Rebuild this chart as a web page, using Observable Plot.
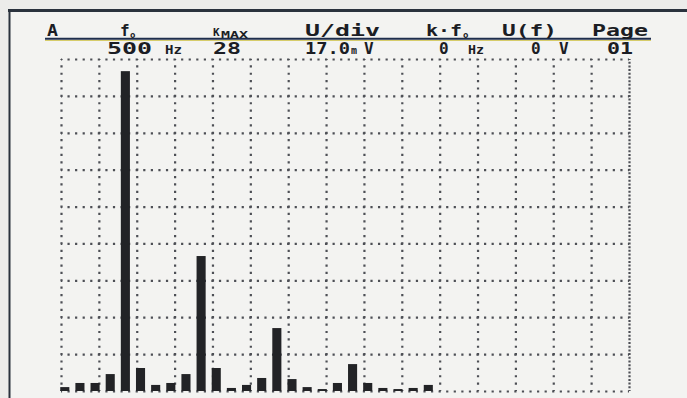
<!DOCTYPE html>
<html>
<head>
<meta charset="utf-8">
<script src="https://cdn.jsdelivr.net/npm/d3@7"></script>
<script src="https://cdn.jsdelivr.net/npm/@observablehq/plot@0.6"></script>
<style>
  html, body { margin: 0; padding: 0; background: #eeeeec; }
  #chart { width: 687px; height: 398px; }
  svg text.hdr { font-family: "DejaVu Sans Mono", "Liberation Mono", monospace; fill: #1b1d24; }
</style>
</head>
<body>
<div id="chart"></div>
<script>
// ---- data: harmonic order k and amplitude U(k) in mV (U/div = 17.0 mV) ----
const harmonic = [1,2,3,4,5,6,7,8,9,10,11,12,13,14,15,16,17,18,19,20,21,22,23,24,25,26,27,28];
const amplitude = [1.8,3.7,3.7,7.8,147.4,10.6,2.8,3.7,7.8,62.2,10.6,1.4,2.8,6.0,29.0,5.5,1.8,0.9,3.7,12.4,3.7,1.4,0.9,1.4,2.8,0,0,0];

// grid lines (in harmonic units and mV)
const gridK = [0.75,3.25,5.75,8.25,10.75,13.25,15.75,18.25,20.75,23.25,25.75,28.25,30.75,33.25,35.75];
const gridKRight = [38.25];
const gridU = [0,17,34,51,68,85,102,119,136,153];

// header texts (labels row, then values row)
const headTexts  = ["A", "f", "o", "K", "MAX", "U/div", "k·f", "o", "U(f)", "Page"];
const valueTexts = ["500", "Hz", "28", "17.0", "m", "V", "0", "Hz", "0", "V", "01"];

// ---- layout (not data): [x, width (null = natural), font size, baseline] ----
const W = 687, H = 398;
const headLayout = [
  [47, 11, 16, 36], [120, null, 16, 36], [130, null, 9, 38], [213, null, 11, 36], [221, 27, 8, 37.5],
  [305, 75, 16, 36], [426, 36, 16, 36], [463, null, 9, 38], [502, 55, 16, 36], [592, 56, 16, 36]
];
const valueLayout = [
  [107, 45, 16, 54], [165, 17, 12, 54], [213, 28, 16, 54], [305, 45, 16, 54], [351, null, 10, 54], [364, null, 16, 54],
  [439, null, 16, 54], [468, 16, 12, 54], [531, null, 16, 54], [559, null, 16, 54], [607, 26, 16, 54]
];

const rows = harmonic.map((k, i) => ({k, u: amplitude[i]}));

const dx = 568 / 15 / 5;   // dot spacing along horizontal grid lines
const dy = 332 / 9 / 5;    // dot spacing along vertical grid lines

const svg = Plot.plot({
  width: W,
  height: H,
  marginLeft: 61,
  marginRight: 58,
  marginTop: 59,
  marginBottom: 7,
  x: {domain: [0.75, 38.25], axis: null},
  y: {domain: [0, 153], axis: null},
  style: {background: "transparent"},
  marks: [
    Plot.ruleY(gridU, {stroke: "#4d4f55", strokeWidth: 2.2, strokeDasharray: `2.2 ${dx - 2.2}`, strokeDashoffset: 1.1}),
    Plot.ruleX(gridK, {stroke: "#4d4f55", strokeWidth: 2.2, strokeDasharray: `2.2 ${dy - 2.2}`, strokeDashoffset: 1.1}),
    Plot.ruleX(gridKRight, {stroke: "#4d4f55", strokeWidth: 2.2, strokeDasharray: `2 ${dy / 2 - 2}`, strokeDashoffset: 1}),
    Plot.rectY(rows, {x1: d => d.k - 0.3, x2: d => d.k + 0.3, y: "u", fill: "#222326"})
  ]
});

const s = d3.select(svg);
// background and screen frame
s.insert("rect", ":first-child").attr("x", 0).attr("y", 0).attr("width", W).attr("height", H).attr("fill", "#ececea");
s.insert("rect", ":nth-child(2)").attr("x", 9).attr("y", 11).attr("width", W).attr("height", H).attr("fill", "#f3f3f1");
s.append("line").attr("x1", 8).attr("x2", W).attr("y1", 10.5).attr("y2", 10.5).attr("stroke", "#2a323d").attr("stroke-width", 3);
s.append("line").attr("x1", 9.5).attr("x2", 9.5).attr("y1", 9).attr("y2", H).attr("stroke", "#2a323d").attr("stroke-width", 2);
// header underline
s.append("line").attr("x1", 45).attr("x2", 651).attr("y1", 38.8).attr("y2", 38.8).attr("stroke", "#1e2d4c").attr("stroke-width", 2);
s.append("line").attr("x1", 45).attr("x2", 651).attr("y1", 40.5).attr("y2", 40.5).attr("stroke", "#d6cc6a").attr("stroke-width", 1);

function put(texts, layout) {
  texts.forEach((t, i) => {
    const [x, w, fs, base] = layout[i];
    const el = s.append("text")
      .attr("class", "hdr")
      .attr("text-anchor", "start")
      .attr("x", x).attr("y", base)
      .attr("font-size", fs)
      .attr("font-weight", "bold")
      .text(t);
    if (w) el.attr("textLength", w).attr("lengthAdjust", "spacingAndGlyphs");
  });
}
put(headTexts, headLayout);
put(valueTexts, valueLayout);

document.getElementById("chart").appendChild(svg);
</script>
</body>
</html>
